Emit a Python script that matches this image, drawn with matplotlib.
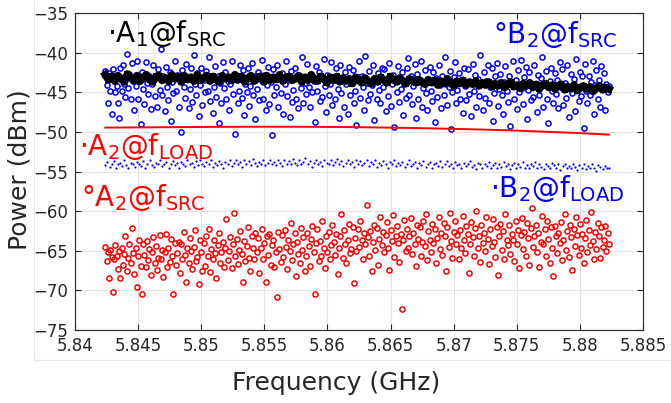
import numpy as np
import matplotlib
matplotlib.use("Agg")
import matplotlib.pyplot as plt
from matplotlib.lines import Line2D

plt.rcParams['font.family'] = ['DejaVu Sans']
plt.rcParams['mathtext.default'] = 'regular'

# ---------------- data ----------------
f_start, f_stop = 5.8424, 5.8823

b2_src = [  # B2 @ f_SRC, blue circles (dBm)
    -42.3,-44.1,-46.3,-42.6,-44.9,-47.8,-42.1,-43.5,-45.0,-44.2,-46.3,-48.3,-42.0,-44.8,-41.5,-43.9,-45.6,-40.2,-44.5,-42.7,
    -45.8,-41.3,-43.6,-47.3,-44.2,-41.0,-45.9,-43.1,-49.0,-42.4,-44.6,-46.5,-41.2,-43.8,-45.2,-42.9,-47.1,-44.0,-41.6,-45.5,
    -43.2,-46.8,-42.1,-44.7,-39.6,-45.3,-43.0,-47.4,-41.8,-44.3,-46.0,-42.5,-48.6,-43.7,-45.1,-41.1,-44.9,-42.8,-46.9,-43.4,
    -50.0,-42.2,-44.4,-45.7,-41.4,-43.3,-47.0,-44.6,-42.0,-46.2,-40.3,-43.9,-45.4,-42.6,-48.0,-44.1,-41.9,-46.6,-43.5,-45.0,
    -42.3,-44.8,-40.6,-46.1,-43.1,-47.6,-44.3,-41.7,-45.6,-42.9,-48.9,-43.8,-46.4,-41.2,-44.5,-42.4,-45.9,-43.6,-47.2,-44.0,
    -41.0,-45.2,-42.7,-50.3,-43.4,-46.3,-44.9,-41.5,-45.7,-42.2,-47.9,-43.9,-45.0,-42.0,-46.7,-44.2,-41.3,-45.4,-43.0,-48.4,
    -44.6,-42.5,-46.0,-43.3,-40.9,-45.8,-42.8,-47.3,-44.1,-41.8,-46.5,-43.7,-50.4,-42.1,-45.3,-44.4,-41.6,-46.9,-43.2,-45.1,
    -42.6,-47.7,-44.0,-41.1,-45.5,-43.5,-48.1,-42.3,-46.2,-44.7,-41.9,-45.9,-43.1,-47.0,-42.9,-44.5,-40.5,-46.4,-43.8,-45.2,
    -41.4,-44.3,-46.8,-42.7,-45.0,-43.6,-48.7,-41.7,-44.9,-42.4,-46.1,-43.0,-45.6,-40.8,-44.2,-47.5,-42.8,-45.3,-43.9,-41.2,
    -46.6,-43.4,-45.8,-42.0,-44.6,-48.2,-41.5,-45.1,-43.2,-46.9,-42.5,-44.0,-47.7,-41.8,-45.4,-43.7,-42.2,-46.3,-44.8,-49.1,
    -43.1,-41.0,-45.7,-42.9,-44.4,-47.2,-40.4,-43.8,-46.0,-42.3,-45.2,-44.1,-41.6,-48.5,-43.5,-45.9,-42.6,-44.7,-46.4,-41.9,
    -44.3,-42.1,-47.4,-43.6,-45.5,-41.3,-46.7,-44.0,-42.8,-49.4,-43.3,-45.0,-41.7,-46.2,-44.6,-42.4,-47.9,-43.9,-45.7,-42.0,
    -40.7,-45.3,-43.0,-46.5,-44.2,-41.4,-48.3,-42.7,-45.8,-43.7,-41.1,-46.9,-44.5,-42.2,-45.1,-47.3,-43.4,-41.8,-44.8,-46.1,
    -42.5,-48.8,-43.2,-45.6,-41.5,-44.1,-47.0,-42.9,-45.4,-40.6,-43.9,-46.6,-44.4,-42.3,-49.6,-45.0,-43.1,-41.2,-46.3,-44.7,
    -42.6,-45.9,-43.5,-47.6,-41.9,-44.2,-46.0,-42.1,-45.2,-43.8,-48.0,-41.4,-44.9,-42.8,-46.8,-43.3,-45.5,-40.3,-44.0,-47.2,
    -42.4,-45.7,-43.6,-41.6,-46.4,-44.3,-42.0,-48.6,-45.1,-43.0,-41.3,-46.7,-44.6,-42.7,-45.3,-47.8,-43.7,-41.7,-44.8,-46.2,
    -42.9,-49.2,-44.1,-41.1,-45.8,-43.4,-47.1,-42.2,-45.0,-40.9,-44.5,-46.5,-43.1,-41.8,-48.4,-44.7,-42.5,-46.0,-43.9,-45.6,
    -41.5,-44.2,-47.5,-42.8,-45.4,-43.2,-40.5,-46.9,-44.0,-42.3,-45.9,-48.9,-43.6,-41.9,-44.9,-46.3,-42.6,-45.2,-43.5,-47.0,
    -41.2,-44.4,-42.1,-46.6,-43.8,-45.7,-41.6,-48.1,-44.6,-42.7,-45.1,-43.3,-47.4,-40.8,-44.3,-46.1,-42.4,-45.5,-43.0,-49.5,
    -41.4,-44.8,-46.4,-42.9,-45.3,-43.7,-41.0,-47.7,-44.1,-42.2,-45.8,-43.4,-46.8,-41.7,-44.5,-42.6,-47.2,-43.9,-45.0,-44.2,
]

a2_src = [  # A2 @ f_SRC, red circles (dBm)
    -64.5,-66.3,-65.1,-68.5,-64.9,-65.8,-70.2,-66.1,-64.3,-65.6,-67.3,-65.0,-68.5,-64.7,-66.8,-65.4,-63.1,-67.6,-65.9,-64.2,
    -66.5,-62.1,-65.3,-67.9,-64.6,-69.6,-65.7,-63.6,-66.9,-70.5,-64.1,-65.5,-67.1,-63.8,-66.2,-64.8,-68.0,-65.2,-63.3,-66.6,
    -64.4,-67.4,-65.9,-63.0,-66.0,-64.9,-68.3,-65.1,-62.9,-67.0,-64.6,-66.4,-63.5,-65.7,-70.5,-64.0,-66.8,-65.3,-63.9,-67.8,
    -64.2,-66.1,-62.6,-65.5,-68.9,-64.7,-66.6,-63.4,-65.0,-67.3,-64.5,-62.4,-66.3,-65.8,-69.2,-63.7,-65.2,-67.5,-64.0,-66.9,
    -63.1,-65.6,-62.3,-67.7,-64.8,-66.0,-63.6,-65.3,-68.4,-64.3,-62.8,-66.5,-65.1,-63.9,-67.1,-64.6,-61.0,-66.2,-65.0,-63.3,
    -67.2,-64.1,-60.2,-65.7,-63.5,-66.7,-64.9,-62.5,-65.4,-69.0,-63.8,-66.3,-64.4,-62.0,-65.9,-67.6,-63.2,-64.7,-66.1,-62.7,
    -65.2,-63.4,-67.8,-64.6,-62.2,-66.0,-64.0,-68.9,-63.1,-65.5,-62.9,-66.8,-64.3,-63.7,-67.0,-65.1,-70.8,-62.6,-64.8,-66.4,
    -63.0,-65.8,-62.4,-64.5,-67.3,-63.6,-65.0,-61.5,-66.2,-64.2,-62.7,-68.2,-63.9,-65.4,-66.6,-62.1,-64.9,-63.3,-67.5,-65.6,
    -62.8,-64.4,-66.9,-63.5,-61.9,-65.2,-70.4,-64.0,-62.3,-66.3,-63.8,-65.7,-61.3,-64.6,-67.2,-63.2,-65.1,-62.6,-66.0,-64.3,
    -61.8,-63.9,-65.5,-62.9,-67.9,-64.7,-63.1,-60.3,-65.9,-62.4,-64.2,-66.5,-63.6,-61.6,-65.3,-64.8,-62.0,-69.1,-63.4,-65.0,
    -62.2,-64.5,-61.2,-63.7,-66.1,-62.8,-64.1,-59.2,-63.3,-65.6,-62.5,-67.6,-63.9,-61.7,-64.9,-62.1,-66.8,-63.5,-60.8,-64.3,
    -62.6,-65.2,-63.0,-61.4,-64.6,-67.4,-62.4,-63.8,-60.5,-65.8,-63.2,-61.9,-64.0,-66.4,-62.9,-72.3,-63.6,-61.1,-65.0,-62.3,
    -64.7,-63.1,-60.9,-65.4,-62.7,-64.2,-66.9,-61.8,-63.5,-62.0,-65.7,-63.9,-61.3,-64.4,-60.4,-66.2,-62.5,-63.7,-65.1,-61.6,
    -64.0,-62.2,-66.6,-63.4,-60.7,-64.8,-62.8,-65.5,-61.5,-63.2,-67.5,-62.0,-64.5,-60.2,-63.8,-65.9,-62.6,-61.2,-64.1,-63.0,
    -66.1,-62.4,-64.7,-60.6,-63.6,-65.3,-61.9,-62.9,-67.8,-64.2,-61.4,-63.3,-65.6,-62.1,-60.0,-64.6,-63.1,-66.4,-61.7,-64.0,
    -62.7,-65.0,-60.8,-63.5,-66.7,-62.3,-64.4,-61.0,-63.9,-65.8,-62.0,-68.1,-63.2,-61.6,-64.9,-62.5,-66.0,-60.3,-63.7,-64.3,
    -61.8,-65.4,-62.9,-63.6,-66.3,-61.2,-64.1,-62.4,-67.2,-63.0,-60.9,-64.8,-62.6,-65.7,-61.5,-63.4,-66.8,-62.1,-59.6,-64.5,
    -63.1,-61.7,-65.1,-62.8,-67.0,-63.9,-60.6,-64.2,-62.3,-65.6,-61.3,-63.5,-66.5,-62.0,-64.6,-68.2,-61.9,-63.2,-65.3,-62.7,
    -64.0,-61.4,-66.2,-63.7,-60.4,-64.9,-62.5,-65.8,-61.8,-63.3,-67.4,-62.2,-64.4,-60.7,-63.0,-65.5,-61.6,-64.7,-62.9,-66.6,
    -63.4,-61.1,-65.2,-62.4,-64.3,-60.1,-63.8,-66.0,-62.6,-64.8,-61.5,-63.1,-65.9,-62.0,-64.5,-63.6,-61.9,-65.0,-62.8,-64.1,
]

a1_src = [  # A1 @ f_SRC, black dots (dBm)
    -42.8,-43.4,-43.0,-43.6,-42.9,-43.3,-43.7,-42.7,-43.2,-43.5,-42.9,-43.6,-43.1,-42.8,-43.4,-43.7,-43.0,-42.9,-43.5,-43.2,
    -43.6,-42.8,-43.3,-43.0,-43.7,-42.9,-43.4,-43.1,-43.6,-42.8,-43.5,-43.2,-42.9,-43.6,-43.0,-43.4,-43.7,-42.9,-43.3,-43.1,
    -43.5,-42.8,-43.4,-43.0,-43.7,-43.2,-42.9,-43.6,-43.3,-43.0,-43.7,-42.9,-43.5,-43.1,-43.4,-42.8,-43.6,-43.2,-43.0,-43.5,
    -43.3,-42.9,-43.7,-43.1,-43.5,-42.8,-43.4,-43.6,-43.0,-43.3,-43.8,-43.1,-43.5,-43.0,-43.7,-43.2,-43.6,-43.3,-43.9,-43.1,
    -43.5,-43.8,-43.2,-43.6,-43.9,-43.3,-43.7,-43.1,-43.5,-43.8,-43.0,-43.4,-43.7,-43.2,-43.6,-43.9,-43.3,-43.5,-43.8,-43.4,
    -43.7,-44.0,-43.4,-43.8,-43.5,-44.1,-43.6,-43.9,-43.3,-43.8,-44.2,-43.6,-43.9,-43.5,-44.1,-43.7,-44.0,-43.6,-44.2,-43.8,
    -44.1,-43.7,-44.3,-43.9,-44.2,-43.8,-44.4,-44.0,-43.7,-44.3,-44.1,-44.5,-43.9,-44.2,-43.8,-44.4,-44.0,-44.6,-44.1,-43.9,
    -44.4,-44.1,-44.6,-44.2,-44.0,-44.7,-44.3,-44.5,-44.1,-44.8,-44.4,-44.2,-44.6,-44.3,-44.9,-44.5,-44.2,-44.7,-44.4,-44.6,
]

b2_load = [  # B2 @ f_LOAD, small blue dots (dBm)
    -54.2,-53.8,-54.4,-54.0,-53.7,-54.5,-54.1,-53.9,-54.3,-53.6,-54.2,-54.6,-53.9,-54.0,-54.4,-53.8,-54.1,-54.3,-53.7,-54.5,
    -54.0,-53.6,-54.2,-54.4,-53.9,-54.1,-53.5,-54.3,-54.0,-53.8,-54.6,-54.1,-53.7,-54.2,-53.9,-54.5,-53.8,-54.0,-54.3,-53.6,
    -54.1,-53.9,-54.4,-53.7,-54.2,-53.5,-54.0,-54.3,-53.8,-54.1,-53.6,-54.4,-53.9,-54.2,-53.7,-54.0,-54.5,-53.8,-54.1,-53.6,
    -54.3,-53.9,-53.5,-54.1,-53.8,-54.4,-53.6,-54.0,-53.7,-54.2,-53.4,-53.9,-54.3,-53.8,-54.0,-53.6,-54.2,-53.9,-53.5,-54.1,
    -53.8,-54.2,-53.6,-53.9,-54.3,-53.5,-54.0,-53.7,-54.1,-53.4,-53.9,-54.2,-53.6,-54.0,-53.8,-53.3,-54.1,-53.7,-54.4,-53.9,
    -53.6,-54.0,-53.8,-54.3,-53.5,-53.9,-54.1,-53.6,-54.2,-53.8,-53.4,-54.0,-53.7,-54.3,-53.9,-53.5,-54.1,-53.8,-54.4,-53.6,
    -54.0,-53.7,-54.2,-53.9,-53.5,-54.3,-53.8,-54.1,-53.6,-54.4,-53.9,-54.2,-53.7,-54.0,-54.5,-53.8,-54.1,-53.6,-54.3,-53.9,
    -54.2,-53.8,-54.4,-54.0,-53.6,-54.3,-54.1,-53.8,-54.5,-53.9,-54.2,-53.7,-54.4,-54.0,-53.8,-54.6,-54.1,-53.9,-54.3,-53.7,
    -54.4,-54.0,-53.7,-54.3,-54.1,-54.6,-53.8,-54.2,-54.0,-54.5,-53.9,-54.3,-54.1,-53.7,-54.4,-54.2,-54.7,-53.9,-54.1,-54.5,
    -54.0,-54.3,-53.8,-54.5,-54.2,-53.9,-54.6,-54.1,-54.4,-53.8,-54.3,-54.0,-54.7,-54.2,-53.9,-54.5,-54.1,-54.4,-53.8,-54.6,
    -54.2,-54.5,-54.0,-54.3,-53.8,-54.6,-54.1,-54.4,-54.7,-54.0,-54.3,-54.5,-53.9,-54.2,-54.6,-54.1,-54.8,-54.3,-54.0,-54.5,
    -54.3,-54.6,-54.1,-54.4,-54.8,-54.2,-54.5,-54.0,-54.7,-54.3,-54.5,-54.1,-54.6,-54.9,-54.2,-54.4,-54.7,-54.3,-54.5,-54.6,
]

a2_load = [  # A2 @ f_LOAD, red trace (dBm)
    -49.46,-49.44,-49.42,-49.40,-49.38,-49.36,-49.35,-49.35,-49.36,-49.38,-49.41,
    -49.45,-49.50,-49.56,-49.63,-49.71,-49.80,-49.92,-50.05,-50.18,-50.35,
]

xticks = [5.84, 5.845, 5.85, 5.855, 5.86, 5.865, 5.87, 5.875, 5.88, 5.885]
xticklabels = ['5.84', '5.845', '5.85', '5.855', '5.86', '5.865', '5.87', '5.875', '5.88', '5.885']
yticks = [-75, -70, -65, -60, -55, -50, -45, -40, -35]

labels = [
    ('\u00b7A$_1$@f$_{SRC}$', 5.8425, -38.6, 'black'),
    ('\u00b0B$_2$@f$_{SRC}$', 5.8731, -38.8, '#0000ff'),
    ('\u00b7A$_2$@f$_{LOAD}$', 5.8403, -52.9, '#ff0000'),
    ('\u00b0A$_2$@f$_{SRC}$', 5.8405, -59.4, '#ff0000'),
    ('\u00b7B$_2$@f$_{LOAD}$', 5.8729, -58.2, '#0000ff'),
]

# ---------------- figure ----------------
fig = plt.figure(figsize=(6.71, 4.03), dpi=100)
ax = fig.add_axes([75/671, 1-330/403, (643-75)/671, (330-13)/403])

def freqs(vals):
    return np.linspace(f_start, f_stop, len(vals))

ax.plot(freqs(b2_src), b2_src, 'o', ms=3.7, mfc='none', mec='#0000ff', mew=1.1, zorder=3)
ax.plot(freqs(a1_src), a1_src, '-', color='black', lw=5.5, zorder=4)
ax.plot(freqs(a1_src), a1_src, 's', ms=4.5, color='black', mew=0, zorder=4)
ax.plot(freqs(a2_load), a2_load, '-', color='#ff0000', lw=1.4, zorder=4)
ax.plot(freqs(b2_load), b2_load, 'o', ms=1.6, color='#0000ff', mew=0, zorder=4)
ax.plot(freqs(a2_src), a2_src, 'o', ms=3.7, mfc='none', mec='#ff0000', mew=1.1, zorder=3)

for txt, x, y, c in labels:
    ax.text(x, y, txt, color=c, fontsize=20, ha='left', va='baseline', zorder=6)

ax.set_xlim(5.84, 5.885)
ax.set_ylim(-75, -35)
ax.set_xticks(xticks)
ax.set_xticklabels(xticklabels)
ax.set_yticks(yticks)
ax.grid(True, color='#e3e3e3', lw=0.8, zorder=0)
ax.set_axisbelow(True)
ax.tick_params(direction='in', top=True, right=True, length=4, width=0.8,
               colors='#262626', labelsize=12, pad=5)
for s in ax.spines.values():
    s.set_color('#262626')
    s.set_linewidth(0.8)

ax.set_xlabel('Frequency (GHz)', fontsize=18, color='#262626', labelpad=10)
ax.xaxis.set_label_coords((336 - 75) / 568, -(383 - 330) / 317, transform=ax.transAxes)
ax.xaxis.label.set_va('center')
ax.set_ylabel('Power (dBm)', fontsize=18, color='#262626')
ax.yaxis.set_label_coords(-(75 - 19.5) / 568, (330 - 170) / 317, transform=ax.transAxes)
ax.yaxis.label.set_va('center')

# faint outer box
fig.add_artist(Line2D([34/671, 34/671], [1-360/403, 1.0], color='#e6e6e6', lw=0.8))
fig.add_artist(Line2D([34/671, 1.0], [1-360/403, 1-360/403], color='#e6e6e6', lw=0.8))

fig.savefig('out.png', dpi=100)
